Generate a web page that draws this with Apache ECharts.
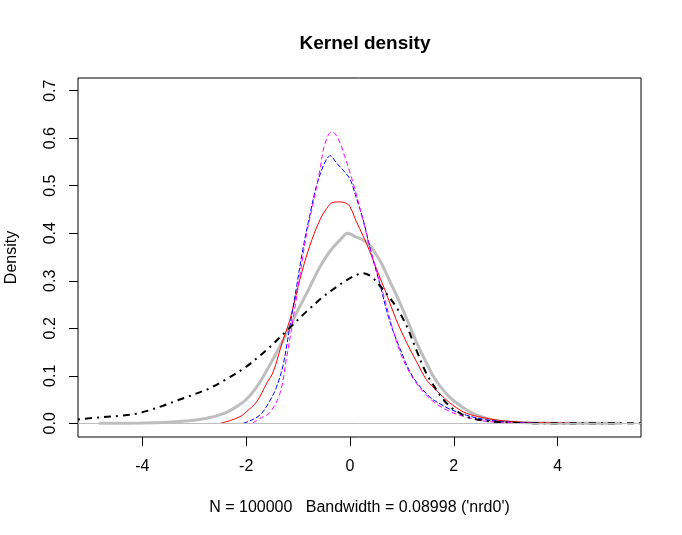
<!DOCTYPE html>
<html>
<head>
<meta charset="utf-8">
<script src="https://cdn.jsdelivr.net/npm/echarts@6/dist/echarts.min.js"></script>
<style>
  html, body { margin: 0; padding: 0; background: #fff; }
  #chart { width: 682px; height: 535px; }
</style>
</head>
<body>
<div id="chart"></div>
<script>
// axis limits and ticks
const xMin = -5.241, xMax = 5.607;
const yMin = -0.0289, yMax = 0.7268;
const xTicks = [-4, -2, 0, 2, 4];
const yTicks = [0, 0.1, 0.2, 0.3, 0.4, 0.5, 0.6, 0.7];

// density curves
const grayX = [-4.84, -4.0, -3.5, -3.15, -2.9, -2.7, -2.4, -2.2, -2.0, -1.8, -1.6, -1.4, -1.2, -1.0, -0.8, -0.6, -0.4, -0.2, -0.04, 0.1, 0.25, 0.38, 0.5, 0.6, 0.76, 0.96, 1.15, 1.3, 1.45, 1.6, 1.75, 1.92, 2.1, 2.25, 2.4, 2.56, 2.7, 2.88, 3.2, 3.5, 4.0, 4.6, 5.2];
const grayY = [0, 0.0005, 0.002, 0.005, 0.008, 0.012, 0.022, 0.034, 0.05, 0.076, 0.112, 0.152, 0.194, 0.239, 0.281, 0.325, 0.360, 0.385, 0.400, 0.393, 0.386, 0.375, 0.356, 0.338, 0.301, 0.254, 0.205, 0.166, 0.132, 0.100, 0.076, 0.055, 0.039, 0.028, 0.019, 0.013, 0.008, 0.005, 0.002, 0.001, 0.0003, 0.0001, 0];

const redX = [-2.5, -2.3, -2.1, -2.0, -1.8, -1.6, -1.48, -1.3, -1.16, -0.97, -0.78, -0.58, -0.45, -0.33, -0.2, -0.07, 0.0, 0.12, 0.25, 0.38, 0.51, 0.70, 0.89, 1.09, 1.28, 1.47, 1.6, 1.73, 1.92, 2.05, 2.24, 2.56, 2.88, 3.2, 3.5, 3.9, 4.3];
const redY = [0, 0.006, 0.015, 0.024, 0.045, 0.085, 0.108, 0.172, 0.217, 0.301, 0.372, 0.428, 0.452, 0.465, 0.466, 0.463, 0.456, 0.425, 0.395, 0.362, 0.325, 0.273, 0.218, 0.170, 0.130, 0.092, 0.076, 0.062, 0.043, 0.033, 0.021, 0.012, 0.006, 0.003, 0.0015, 0.0005, 0];

const blueX = [-2.06, -1.87, -1.71, -1.55, -1.42, -1.29, -1.16, -1.03, -0.91, -0.78, -0.65, -0.49, -0.38, -0.26, -0.135, 0.0, 0.12, 0.25, 0.38, 0.57, 0.76, 0.96, 1.21, 1.54, 1.75, 1.92, 2.24, 2.56, 2.88, 3.2, 3.6];
const blueY = [0, 0.008, 0.02, 0.046, 0.075, 0.122, 0.203, 0.287, 0.365, 0.435, 0.498, 0.548, 0.563, 0.548, 0.533, 0.514, 0.475, 0.43, 0.372, 0.295, 0.217, 0.158, 0.098, 0.055, 0.040, 0.030, 0.017, 0.0085, 0.004, 0.0015, 0];

const magentaX = [-1.88, -1.74, -1.55, -1.35, -1.23, -1.10, -0.97, -0.84, -0.71, -0.58, -0.49, -0.35, -0.23, -0.10, 0.03, 0.15, 0.28, 0.41, 0.64, 0.83, 1.02, 1.28, 1.60, 1.92, 2.24, 2.56, 2.88, 3.3, 3.6];
const magentaY = [0, 0.01, 0.022, 0.063, 0.133, 0.217, 0.308, 0.397, 0.463, 0.533, 0.586, 0.614, 0.600, 0.561, 0.517, 0.470, 0.414, 0.358, 0.273, 0.196, 0.135, 0.084, 0.046, 0.025, 0.013, 0.005, 0.002, 0.0005, 0];

const blackX = [-5.24, -4.76, -4.4, -4.12, -3.85, -3.6, -3.38, -3.15, -2.9, -2.7, -2.38, -2.0, -1.74, -1.55, -1.19, -0.84, -0.52, -0.26, -0.07, 0.1, 0.25, 0.41, 0.57, 0.70, 0.89, 1.09, 1.28, 1.47, 1.62, 1.8, 1.95, 2.08, 2.24, 2.63, 3.2, 4.0, 5.6];
const blackY = [0.008, 0.013, 0.016, 0.020, 0.028, 0.037, 0.046, 0.055, 0.065, 0.074, 0.093, 0.119, 0.142, 0.160, 0.198, 0.235, 0.266, 0.287, 0.301, 0.311, 0.316, 0.309, 0.290, 0.273, 0.245, 0.205, 0.154, 0.105, 0.078, 0.050, 0.033, 0.024, 0.014, 0.005, 0.001, 0, 0];

const font = "Liberation Sans, Arial, sans-serif";

const pairs = (xs, ys) => xs.map((x, i) => [x, ys[i]]);

const curve = (xs, ys, color, width, type) => ({
  type: "line",
  data: pairs(xs, ys),
  showSymbol: false,
  smooth: 0.35,
  silent: true,
  lineStyle: { color: color, width: width, type: type },
});

const chart = echarts.init(document.getElementById("chart"), null, { renderer: "canvas" });

chart.setOption({
  backgroundColor: "#fff",
  animation: false,
  title: {
    text: "Kernel density",
    left: 360,
    top: 29,
    textAlign: "center",
    textStyle: { fontFamily: font, fontSize: 19, fontWeight: "bold", color: "#000" },
  },
  grid: {
    left: 78,
    right: 41,
    top: 78,
    bottom: 98,
    containLabel: false,
    outerBoundsMode: "none",
    show: true,
    borderColor: "#000",
    borderWidth: 1,
  },
  xAxis: {
    type: "value",
    min: xMin,
    max: xMax,
    axisLine: { show: false, onZero: false },
    axisTick: { show: true, length: 9, customValues: xTicks, lineStyle: { color: "#000" } },
    axisLabel: { customValues: xTicks, margin: 22, color: "#000", fontSize: 16, fontFamily: font },
    splitLine: { show: false },
    name: "N = 100000   Bandwidth = 0.08998 ('nrd0')",
    nameLocation: "middle",
    nameGap: 63,
    nameTextStyle: { color: "#000", fontSize: 16, fontFamily: font },
  },
  yAxis: {
    type: "value",
    min: yMin,
    max: yMax,
    axisLine: { show: false, onZero: false },
    axisTick: { show: true, length: 9, customValues: yTicks, lineStyle: { color: "#000" } },
    axisLabel: {
      customValues: yTicks,
      rotate: 90,
      margin: 19,
      color: "#000",
      fontSize: 16,
      fontFamily: font,
      formatter: (v) => v.toFixed(1),
    },
    splitLine: { show: false },
    name: "Density",
    nameLocation: "middle",
    nameGap: 58,
    nameTextStyle: { color: "#000", fontSize: 16, fontFamily: font },
  },
  series: [
    {
      ...curve(grayX, grayY, "#BEBEBE", 3, "solid"),
      markLine: {
        silent: true,
        symbol: "none",
        label: { show: false },
        lineStyle: { color: "#BEBEBE", width: 1, type: "solid" },
        data: [{ yAxis: 0 }],
      },
    },
    curve(redX, redY, "#FF0000", 1, "solid"),
    curve(blueX, blueY, "#0000FF", 1, [5, 2]),
    curve(magentaX, magentaY, "#FF00FF", 1, [5, 3]),
    curve(blackX, blackY, "#000000", 2, [2, 5, 7, 5]),
  ],
});
</script>
</body>
</html>
